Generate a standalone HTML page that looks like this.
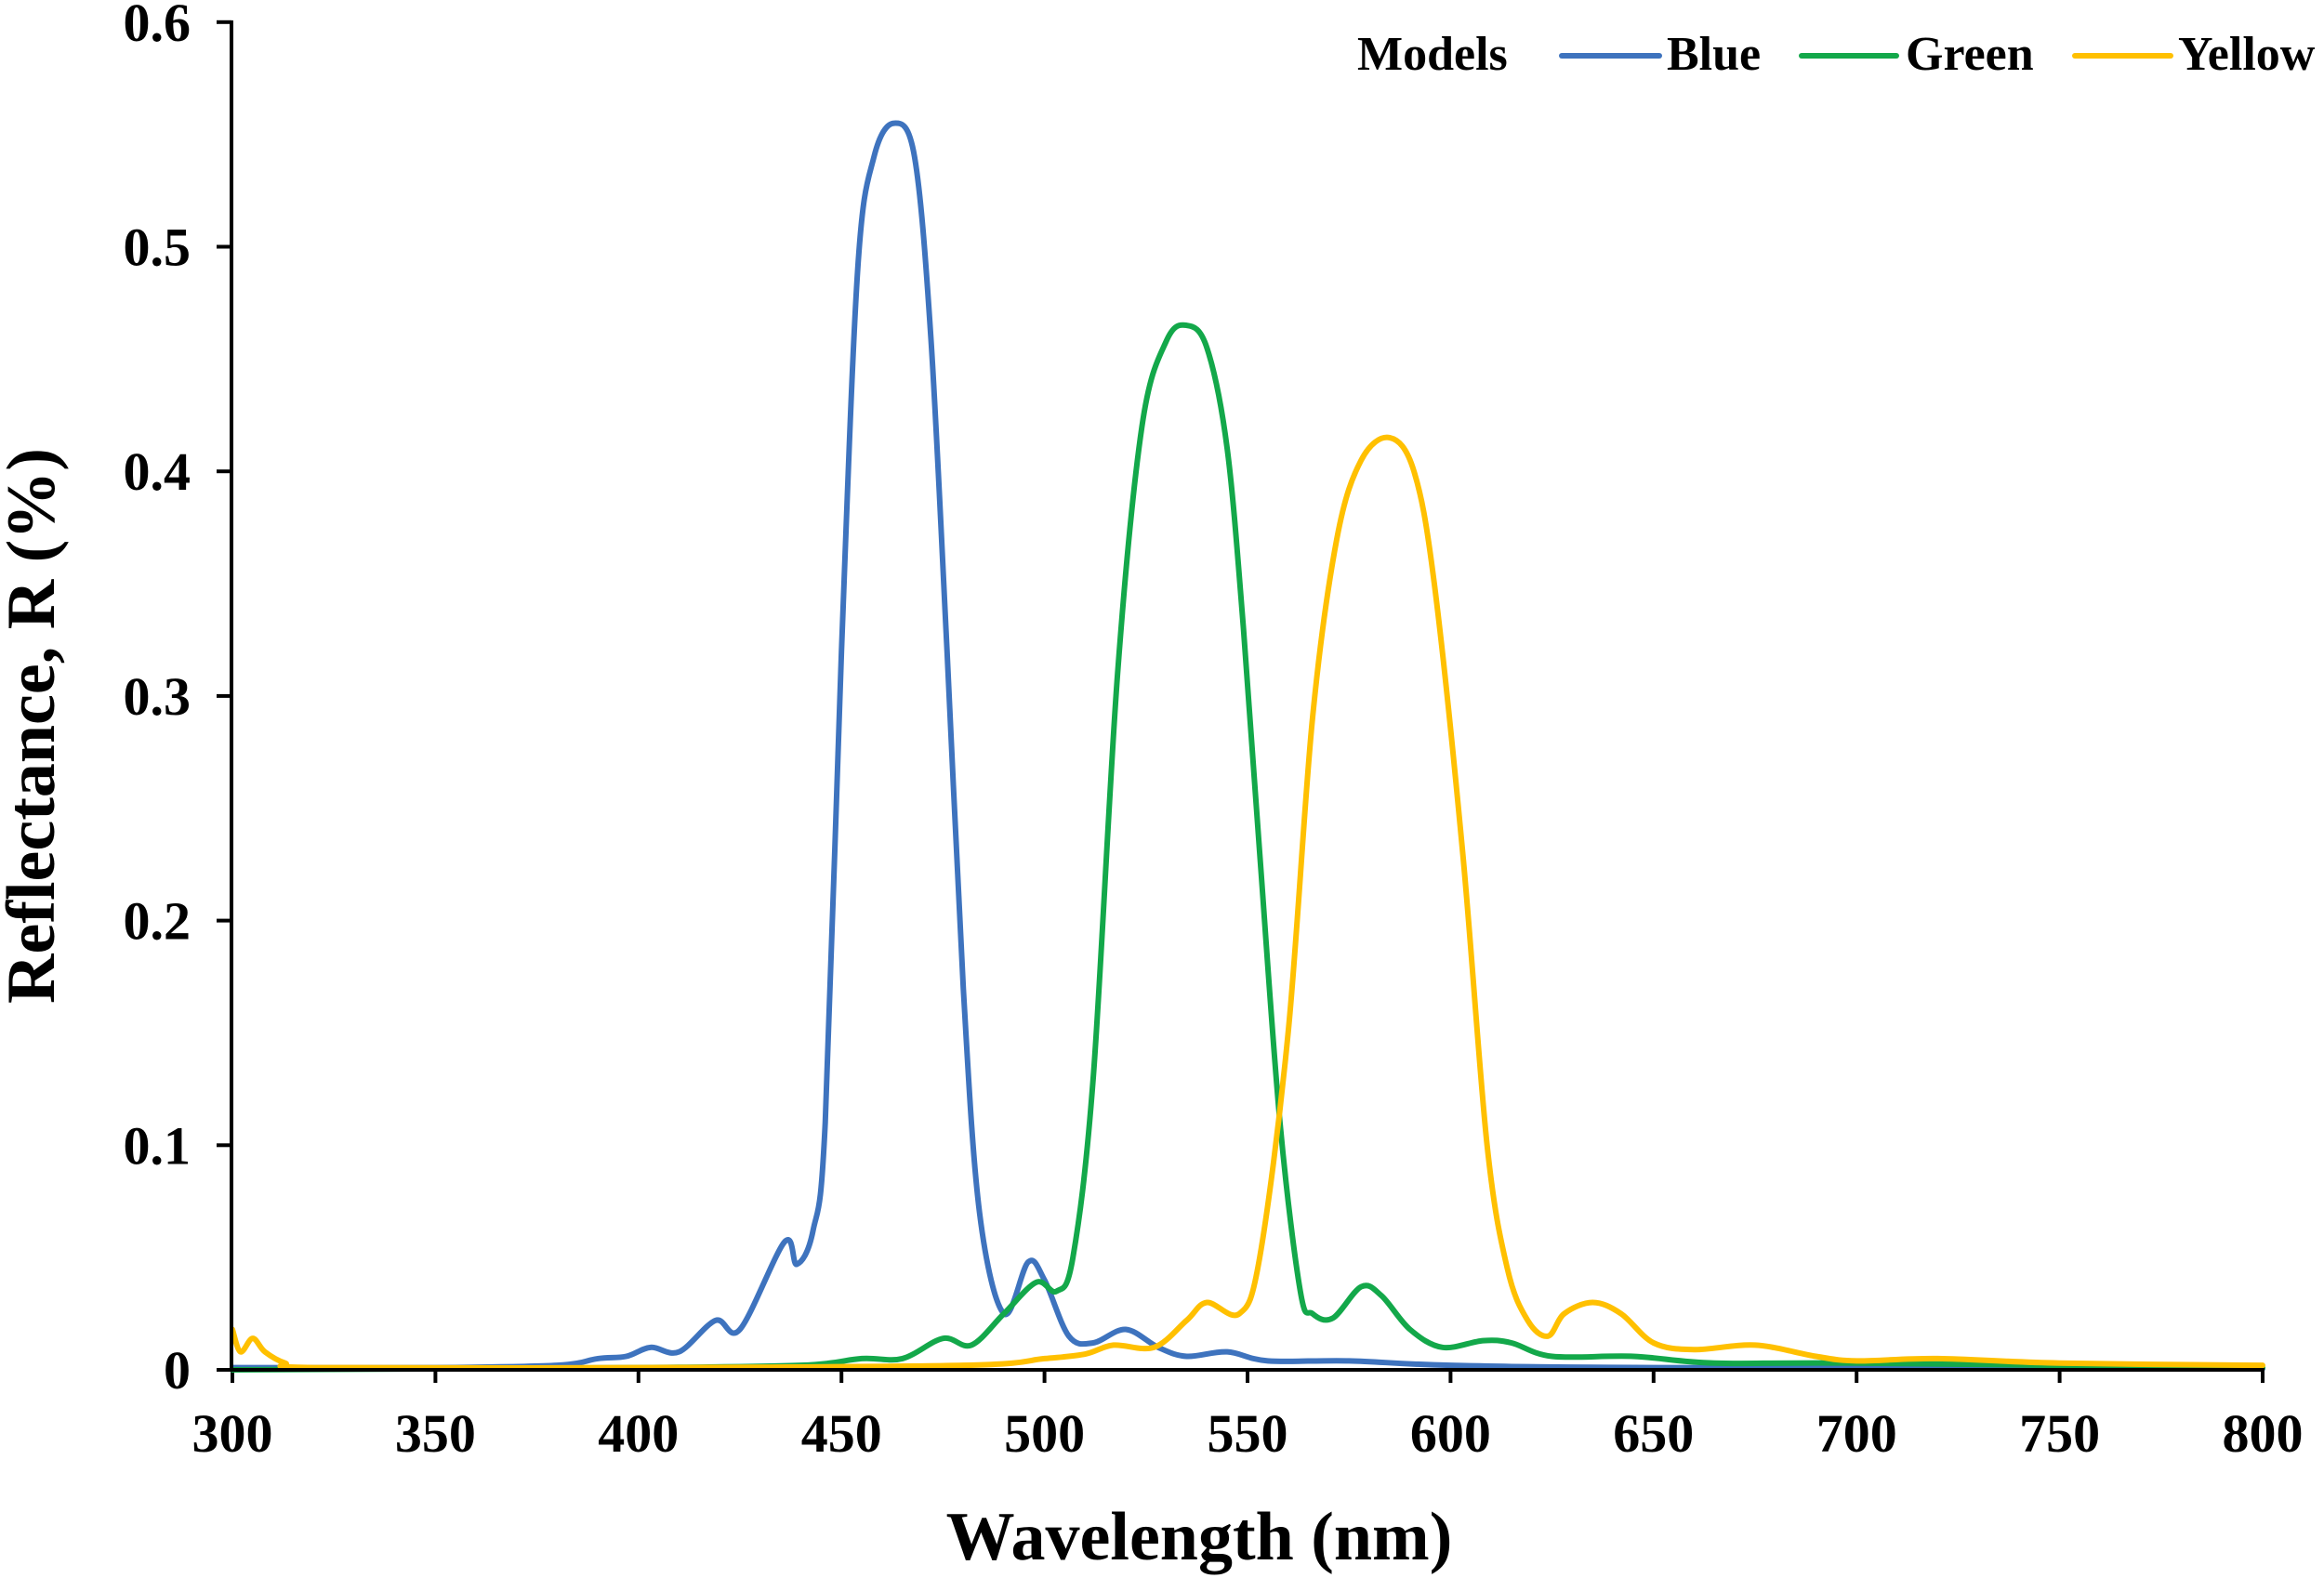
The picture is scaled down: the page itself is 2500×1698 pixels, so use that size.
<!DOCTYPE html>
<html><head><meta charset="utf-8"><style>
html,body{margin:0;padding:0;background:#fff;}
svg{display:block;}
text{font-family:"Liberation Serif",serif;font-weight:bold;fill:#000;}
</style></head><body>
<svg id="s" width="2500" height="1698" viewBox="0 0 2500 1698" xmlns="http://www.w3.org/2000/svg">
<g id="grid"></g>
<g id="curves" fill="none" stroke-width="6" stroke-linejoin="round" stroke-linecap="round"></g>
<line x1="249" y1="22" x2="249" y2="1476" stroke="#000" stroke-width="4"/>
<line x1="247" y1="1474" x2="2436" y2="1474" stroke="#000" stroke-width="4"/>
<text x="1290" y="1678" font-size="74" text-anchor="middle">Wavelength (nm)</text>
<text transform="translate(58,781) rotate(-90)" font-size="74" text-anchor="middle">Reflectance, R (%)</text>
<text x="1460" y="75" font-size="52">Models</text>
<line x1="1680" y1="60" x2="1785" y2="60" stroke="#3E73BE" stroke-width="6" stroke-linecap="round"/>
<text x="1793" y="75" font-size="52">Blue</text>
<line x1="1938" y1="60" x2="2040" y2="60" stroke="#13A84A" stroke-width="6" stroke-linecap="round"/>
<text x="2050" y="75" font-size="52">Green</text>
<line x1="2232" y1="60" x2="2335" y2="60" stroke="#FFC000" stroke-width="6" stroke-linecap="round"/>
<text x="2343" y="75" font-size="52">Yellow</text>
</svg>
<script>
var NS="http://www.w3.org/2000/svg",s=document.getElementById('s'),g=document.getElementById('grid');
function X(n){return 250+(n-300)*4.368;}function Y(v){return 1474-v*2417;}
function el(t,a,p,txt){var e=document.createElementNS(NS,t);for(var k in a)e.setAttribute(k,a[k]);if(txt!=null)e.textContent=txt;(p||g).appendChild(e);return e;}
for(var i=0;i<=6;i++){var y=Y(i/10);el('line',{x1:233,y1:y,x2:249,y2:y,stroke:'#000','stroke-width':4});
el('text',{x:205,y:y+20,'font-size':58,'text-anchor':'end'},s,i==0?'0':(i/10).toFixed(1));}
for(var n=300;n<=800;n+=50){var x=X(n);el('line',{x1:x,y1:1474,x2:x,y2:1488,stroke:'#000','stroke-width':4});
el('text',{x:x,y:1562,'font-size':58,'text-anchor':'middle'},s,String(n));}
var D={
'#3E73BE':[[300,0.001],[350,0.001],[380,0.002],[390,0.005],[397,0.006],[403,0.010],[410,0.008],[419,0.022],[425,0.018],[436,0.057],[439,0.047],[443,0.062],[446,0.11],[450,0.32],[454,0.49],[458,0.54],[463,0.555],[468,0.54],[472,0.46],[476,0.32],[480,0.17],[484,0.07],[490,0.025],[496,0.048],[500,0.04],[506,0.015],[512,0.012],[520,0.018],[528,0.010],[535,0.006],[545,0.008],[555,0.004],[575,0.004],[600,0.002],[650,0.001],[800,0.0005]],
'#13A84A':[[300,0.0],[400,0.001],[440,0.002],[455,0.005],[465,0.005],[475,0.014],[482,0.011],[490,0.025],[498,0.039],[503,0.035],[507,0.05],[512,0.13],[518,0.31],[524,0.42],[530,0.458],[535,0.465],[540,0.455],[545,0.41],[549,0.33],[553,0.23],[558,0.11],[563,0.035],[566,0.025],[571,0.023],[578,0.037],[583,0.033],[590,0.018],[598,0.010],[608,0.013],[615,0.012],[625,0.006],[645,0.006],[665,0.003],[700,0.003],[800,0.001]],
'#FFC000':[[300,0.018],[302,0.008],[305,0.014],[308,0.008],[313,0.003],[320,0.001],[400,0.001],[480,0.002],[500,0.005],[510,0.007],[517,0.011],[527,0.010],[535,0.022],[540,0.030],[548,0.025],[553,0.05],[560,0.15],[566,0.29],[572,0.37],[578,0.405],[585,0.415],[591,0.40],[596,0.35],[603,0.23],[609,0.10],[614,0.045],[619,0.022],[624,0.015],[628,0.025],[635,0.030],[642,0.025],[650,0.012],[660,0.009],[675,0.011],[690,0.006],[700,0.004],[720,0.005],[750,0.003],[800,0.002]]};
var cv=document.getElementById('curves');
for(var c in D){var p=D[c].map(function(q){return [X(q[0]),Y(q[1])];});var d='M'+p[0][0]+','+p[0][1];
for(var i=0;i<p.length-1;i++){var p0=p[i-1]||p[i],p1=p[i],p2=p[i+1],p3=p[i+2]||p2;
d+=' C'+(p1[0]+(p2[0]-p0[0])/6)+','+(p1[1]+(p2[1]-p0[1])/6)+' '+(p2[0]-(p3[0]-p1[0])/6)+','+(p2[1]-(p3[1]-p1[1])/6)+' '+p2[0]+','+p2[1];}
el('path',{d:d,stroke:c},cv);}
</script>
</body></html>
